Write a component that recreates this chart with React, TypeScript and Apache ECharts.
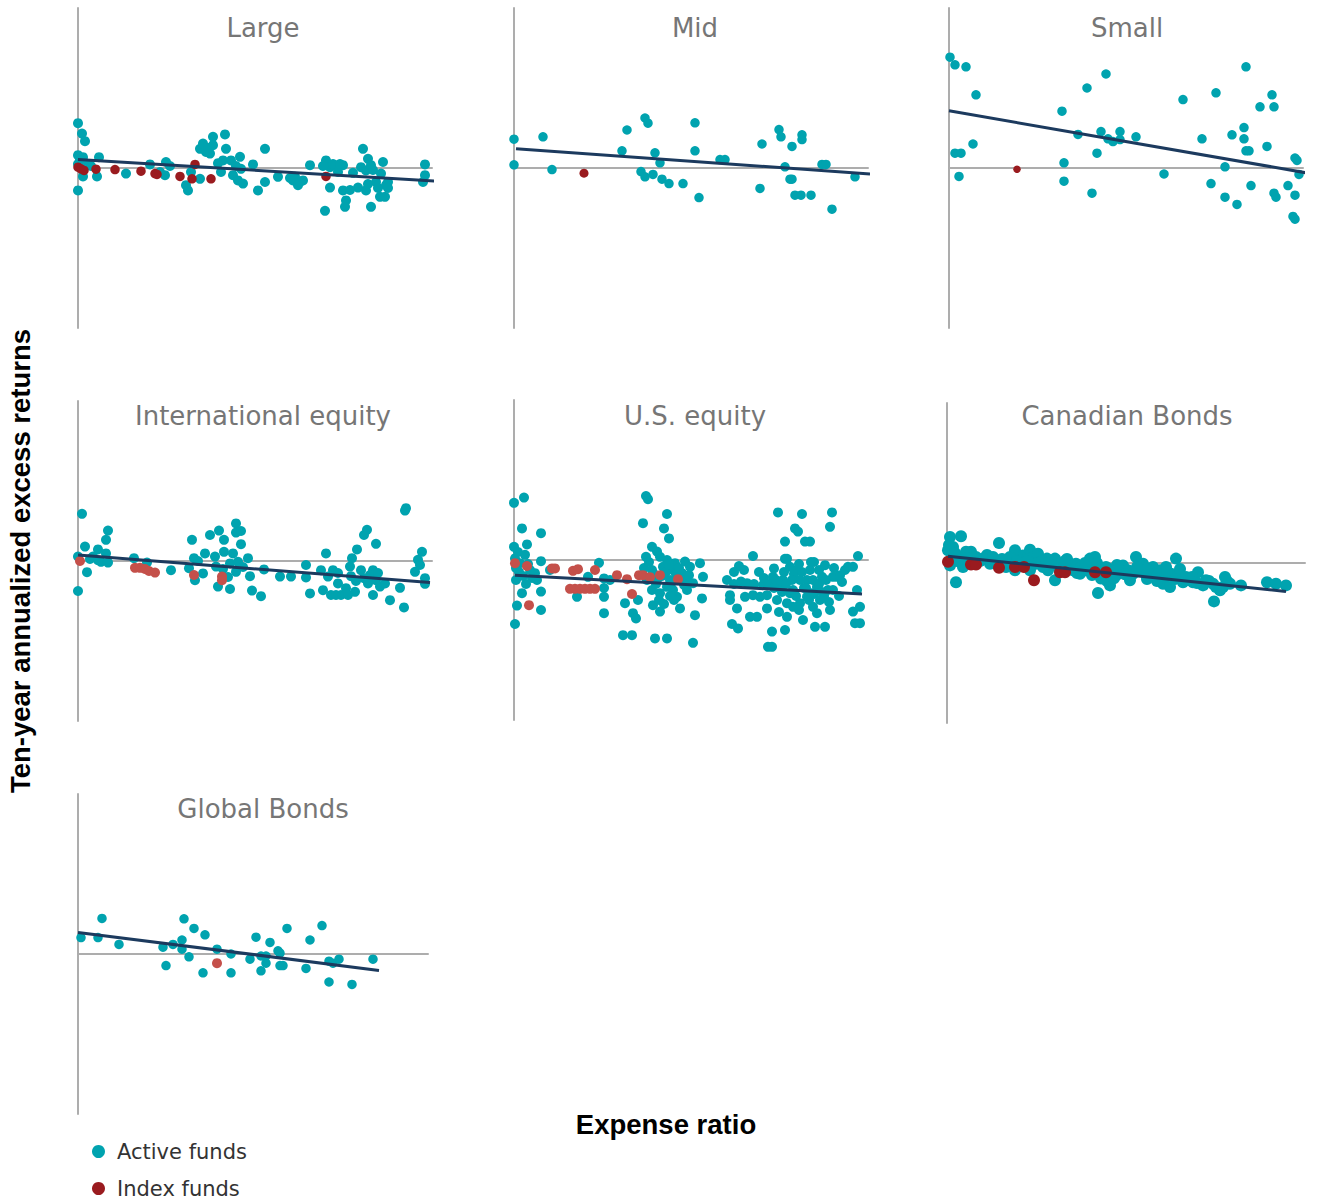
import React, { useEffect, useRef } from "react";
import * as echarts from "echarts";

// ---------- DATA (x: expense ratio %, y: ten-year annualized excess return %) ----------
const panelTitles = ["Large", "Mid", "Small", "International equity", "U.S. equity", "Canadian Bonds", "Global Bonds"];

const largeActive = [[0,1.12],[0.04,0.86],[0.07,0.67],[0,0.32],[0.05,0.27],[0,0.1],[0,-0.56],[0.05,-0.21],[0.1,0.1],[0.21,0.27],[0.19,-0.21],[0.48,-0.14],[0.72,0.09],[0.88,0.15],[0.87,-0.18],[0.82,-0.1],[1.08,-0.43],[1.1,-0.56],[1.13,-0.1],[1.22,-0.27],[1.22,0.48],[1.25,0.61],[1.28,0.4],[1.35,0.78],[1.35,0.57],[1.32,0.36],[1.47,0.84],[1.48,0.48],[1.45,0.19],[1.53,0.19],[1.43,-0.1],[1.62,0.28],[1.63,-0.02],[1.55,-0.18],[1.6,-0.31],[1.65,-0.39],[1.75,0.09],[1.8,-0.56],[1.87,-0.35],[1.87,0.48],[2.0,-0.22],[2.15,-0.31],[2.2,-0.43],[2.25,-0.31],[2.17,-0.22],[2.32,0.07],[2.48,0.19],[2.52,0.02],[2.57,0.07],[2.65,0.07],[2.52,-0.49],[2.65,-0.56],[2.68,-0.81],[2.67,-0.97],[2.47,-1.07],[2.75,-0.12],[2.8,-0.49],[2.85,0.48],[2.83,0.02],[2.88,-0.06],[2.9,0.23],[2.93,0.07],[2.88,-0.56],[2.93,-0.97],[2.98,-0.35],[3.02,-0.72],[3.07,-0.72],[3.05,0.15],[3.03,-0.14],[3.08,-0.43],[3.1,-0.35],[3.47,0.09],[3.47,-0.18],[3.45,-0.35],[0.02,0.2],[0.13,0.05],[0.92,0.05],[1.3,0.5],[1.4,0.12],[1.58,0.05],[2.22,-0.35],[2.12,-0.25],[2.45,0.05],[2.55,0.1],[2.6,-0.1],[2.72,-0.55],[2.95,-0.05],[3.0,-0.5],[3.1,-0.5],[2.62,0.1],[2.9,-0.4]];
const largeIndex = [[0,0.02],[0.03,-0.02],[0.06,-0.06],[0.18,-0.03],[0.37,-0.04],[0.63,-0.08],[0.77,-0.14],[0.79,-0.16],[1.02,-0.21],[1.14,-0.27],[1.17,0.09],[1.33,-0.27],[2.48,-0.21]];
const largeTrend = [[0,0.21],[3.58,-0.33]];

const midActive = [[0,0.72],[0,0.08],[0.29,0.78],[0.38,-0.04],[1.08,0.43],[1.13,0.95],[1.31,1.25],[1.34,1.12],[1.41,0.38],[1.46,0.13],[1.27,-0.09],[1.31,-0.22],[1.39,-0.16],[1.48,-0.28],[1.55,-0.39],[1.69,-0.39],[1.81,1.13],[1.81,0.43],[1.85,-0.74],[2.06,0.21],[2.11,0.21],[2.46,-0.51],[2.48,0.6],[2.65,0.96],[2.67,0.78],[2.78,0.54],[2.88,0.83],[2.88,0.71],[2.71,0.03],[2.76,-0.28],[2.78,-0.28],[2.81,-0.68],[2.87,-0.68],[2.97,-0.68],[3.08,0.09],[3.12,0.09],[3.18,-1.03],[3.41,-0.22]];
const midIndex = [[0.7,-0.13]];
const midTrend = [[0.02,0.48],[3.56,-0.15]];

const smallActive = [[0.01,2.77],[0.06,2.58],[0.17,2.53],[0.27,1.83],[0.24,0.6],[0.06,0.37],[0.12,0.37],[0.1,-0.21],[1.13,1.42],[1.15,0.13],[1.15,-0.33],[1.29,0.84],[1.38,2.0],[1.43,-0.63],[1.48,0.37],[1.52,0.91],[1.57,2.35],[1.59,0.73],[1.64,0.66],[1.71,0.91],[1.71,0.71],[1.87,0.78],[2.15,-0.15],[2.34,1.71],[2.53,0.73],[2.62,-0.39],[2.67,1.88],[2.76,0.03],[2.76,-0.73],[2.83,0.83],[2.88,-0.91],[2.95,1.01],[2.95,0.73],[2.97,2.53],[2.97,0.43],[3.0,0.43],[3.02,-0.44],[3.11,1.53],[3.18,0.54],[3.23,1.83],[3.25,1.53],[3.25,-0.63],[3.27,-0.73],[3.39,-0.44],[3.46,0.25],[3.48,0.19],[3.5,-0.16],[3.46,-0.68],[3.44,-1.21],[3.46,-1.28]];
const smallIndex = [[0.68,-0.03]];
const smallTrend = [[0,1.43],[3.64,-0.15]];

const intlActive = [[0.04,1.18],[0.07,0.36],[0,0.11],[0.09,-0.28],[0,-0.75],[0.15,0.11],[0.2,0.29],[0.23,-0.02],[0.28,0.19],[0.28,0.53],[0.3,0.76],[0.3,-0.04],[0.56,0.07],[0.69,-0.04],[0.93,-0.23],[1.14,0.53],[1.16,0.07],[1.11,-0.18],[1.17,-0.48],[1.25,-0.31],[1.27,0.19],[1.32,0.65],[1.37,0.11],[1.38,-0.14],[1.41,0.76],[1.46,0.53],[1.46,0.23],[1.4,-0.64],[1.52,-0.06],[1.52,-0.7],[1.55,0.19],[1.58,0.94],[1.58,0.71],[1.63,0.75],[1.63,0.42],[1.6,-0.02],[1.58,-0.27],[1.7,0.07],[1.72,-0.38],[1.74,-0.74],[1.83,-0.88],[1.86,-0.21],[2.02,-0.39],[2.13,-0.39],[2.28,-0.1],[2.28,-0.41],[2.32,-0.81],[2.43,-0.23],[2.45,-0.73],[2.48,0.19],[2.5,-0.39],[2.55,-0.23],[2.53,-0.85],[2.6,-0.56],[2.63,-0.85],[2.68,-0.68],[2.72,-0.14],[2.74,0.07],[2.73,-0.38],[2.77,-0.77],[2.79,0.29],[2.83,-0.23],[2.86,0.65],[2.89,0.78],[2.86,-0.43],[2.9,-0.56],[2.95,-0.23],[2.98,0.43],[2.95,-0.85],[2.98,-0.48],[3.02,-0.64],[3.07,-0.56],[3.12,-0.98],[3.22,-0.67],[3.26,-1.16],[3.27,1.26],[3.28,1.32],[3.4,0.03],[3.44,0.23],[3.37,-0.27],[3.42,-0.1],[3.47,-0.43],[3.47,-0.57],[0.12,0.05],[0.2,0.02],[1.2,0.0],[1.45,-0.2],[1.5,-0.4],[1.65,-0.15],[2.6,-0.3],[2.78,-0.5],[2.92,-0.35],[3.0,-0.3],[2.7,-0.85],[2.58,-0.85]];
const intlIndex = [[0.02,0.0],[0.57,-0.17],[0.62,-0.17],[0.67,-0.2],[0.71,-0.25],[0.77,-0.29],[1.16,-0.35],[1.44,-0.39],[1.44,-0.48]];
const intlTrend = [[0,0.15],[3.52,-0.54]];

const usActive = [[0,1.43],[0.1,1.56],[0.08,0.79],[0.13,0.39],[0,0.33],[0.01,0.04],[0.06,-0.08],[0.02,-0.5],[0.08,-0.83],[0.03,-1.14],[0.01,-1.6],[0.11,0.13],[0.16,-0.25],[0.23,-0.5],[0.27,0.67],[0.27,-0.03],[0.27,-0.79],[0.27,-1.25],[0.21,-0.33],[0.36,-0.25],[0.63,-0.92],[0.74,-0.42],[0.85,-0.07],[0.9,-0.46],[0.9,-0.92],[0.9,-1.33],[0.96,-0.5],[1.09,-1.88],[1.18,-1.88],[1.11,-1.08],[1.19,-1.33],[1.22,-1.46],[1.24,-1.0],[1.29,0.92],[1.32,1.6],[1.34,1.52],[1.32,0.08],[1.38,0.33],[1.43,0.21],[1.38,-0.25],[1.39,-1.13],[1.41,-1.96],[1.53,-1.96],[1.46,-0.83],[1.46,-1.29],[1.5,0.79],[1.53,1.15],[1.55,0.54],[1.53,0.0],[1.56,-0.5],[1.59,-0.25],[1.63,-0.92],[1.66,-1.21],[1.71,-0.04],[1.73,-0.5],[1.76,-0.17],[1.79,-0.58],[1.81,-1.38],[1.79,-2.07],[1.86,-0.08],[1.88,-0.96],[1.89,-0.42],[2.13,-0.5],[2.16,-1.0],[2.18,-1.6],[2.24,-1.71],[2.25,-0.15],[2.27,-0.54],[2.23,-1.21],[2.33,-0.58],[2.39,0.1],[2.36,-1.42],[2.43,-1.42],[2.39,-0.88],[2.49,-0.63],[2.53,-1.21],[2.54,-2.17],[2.58,-2.17],[2.58,-1.79],[2.6,-0.21],[2.64,1.19],[2.69,-0.5],[2.71,0.46],[2.71,0.03],[2.73,0.03],[2.73,-1.42],[2.71,-1.75],[2.76,-0.83],[2.79,-0.75],[2.81,0.79],[2.84,0.71],[2.88,1.15],[2.83,-0.25],[2.86,-1.08],[2.89,-1.5],[2.91,0.46],[2.96,0.46],[2.93,-0.5],[2.96,-0.25],[2.98,-0.83],[2.99,-1.17],[3.01,-1.67],[3.03,-0.67],[3.06,-1.0],[3.08,-0.42],[3.11,-0.13],[3.11,-1.67],[3.16,0.83],[3.18,1.19],[3.14,-0.75],[3.16,-1.25],[3.19,-0.42],[3.23,-0.42],[3.26,-0.38],[3.31,-0.25],[3.34,-0.17],[3.39,-0.17],[3.44,0.1],[3.43,-0.75],[3.39,-1.29],[3.46,-1.17],[3.41,-1.58],[3.46,-1.58],[2.59,-0.42],[2.66,-0.67],[2.76,-0.17],[2.86,-0.5],[2.93,-0.92],[2.99,-0.5],[3.03,-1.33],[3.05,-0.25],[2.79,-1.17],[2.73,-1.08],[3.19,-0.75],[2.16,-0.88],[2.31,-0.92],[2.46,-0.92],[2.53,-0.88],[2.63,-1.0],[1.53,-0.67],[1.43,-0.5],[1.66,-0.5],[1.59,-0.75],[1.38,-0.75],[1.33,-0.5],[1.73,-0.75],[1.68,-0.33],[1.49,-0.17],[1.61,-0.08],[1.46,0.08],[0.05,-0.3],[0.12,-0.6],[0.9,-0.7],[1.3,-0.2],[1.6,-1.0],[2.2,-0.3],[2.45,-0.3],[2.65,-1.3],[2.9,-0.7],[3.1,-0.9],[2.85,-1.25],[3.0,-0.05],[3.25,-0.9],[2.55,-0.6],[2.7,-0.3],[0.04,0.2],[0.02,-0.2],[0.09,-0.4],[0.14,-0.1],[0.18,-0.45],[1.35,-0.05],[1.4,-0.35],[1.42,-0.6],[1.48,-0.4],[1.52,-0.3],[1.55,-0.12],[1.58,-0.55],[1.62,-0.35],[1.65,-0.2],[1.7,-0.62],[1.75,-0.38],[1.45,-1.0],[1.5,-1.1],[1.56,-0.9],[2.62,-0.5],[2.68,-0.8],[2.72,-0.6],[2.8,-0.35],[2.82,-0.9],[2.88,-0.3],[2.92,-0.7],[2.95,-1.0],[3.0,-0.85],[3.05,-0.6],[3.08,-0.8],[3.12,-0.5],[3.15,-1.05],[2.78,-0.5],[2.6,-0.7],[2.5,-0.45],[2.4,-0.6],[2.3,-0.25],[2.2,-0.6],[2.85,-0.1],[2.97,-0.05],[3.2,-0.2],[3.28,-0.55]];
const usIndex = [[0.01,-0.08],[0.13,-0.15],[0.15,-1.13],[0.38,-0.21],[0.41,-0.21],[0.59,-0.27],[0.64,-0.23],[0.81,-0.25],[0.56,-0.72],[0.61,-0.72],[0.66,-0.72],[0.71,-0.72],[0.76,-0.72],[0.81,-0.72],[1.03,-0.38],[1.13,-0.48],[1.18,-0.85],[1.25,-0.38],[1.29,-0.38],[1.36,-0.43],[1.46,-0.38],[1.64,-0.48]];
const usTrend = [[0.01,-0.38],[3.48,-0.85]];

const cadActive = [[0.03,0.65],[0.14,0.67],[0.01,0.32],[0.06,0.4],[0.11,0.15],[0.03,-0.06],[0.16,-0.1],[0.09,-0.48],[0.24,0.28],[0.29,0.15],[0.36,0.11],[0.52,0.5],[0.59,-0.1],[0.68,0.32],[0.68,-0.18],[0.76,0.19],[0.83,0.33],[0.86,0.15],[0.91,0.23],[0.83,-0.18],[1.0,0.11],[1.08,0.11],[1.08,-0.43],[1.01,-0.18],[1.16,-0.06],[1.23,-0.02],[1.29,-0.02],[1.33,-0.27],[1.43,0.11],[1.48,0.15],[1.39,-0.18],[1.51,-0.75],[1.54,-0.39],[1.63,-0.56],[1.59,-0.1],[1.69,-0.31],[1.76,-0.06],[1.83,-0.43],[1.89,0.15],[1.96,-0.02],[1.99,-0.27],[2.06,-0.1],[2.13,-0.18],[2.16,-0.52],[2.19,-0.1],[2.23,-0.6],[2.29,0.11],[2.31,-0.31],[2.39,-0.35],[2.46,-0.48],[2.51,-0.23],[2.59,-0.43],[2.66,-0.52],[2.67,-0.96],[2.73,-0.68],[2.78,-0.35],[2.76,-0.6],[2.83,-0.52],[2.94,-0.56],[3.2,-0.48],[3.29,-0.52],[3.39,-0.56],[0.06,0.15],[0.19,0.28],[0.43,-0.02],[0.49,-0.02],[0.63,0.15],[0.73,0.07],[0.89,-0.02],[0.96,-0.1],[1.13,-0.18],[1.26,-0.18],[1.34,-0.1],[1.46,-0.02],[1.56,-0.23],[1.64,-0.27],[1.73,-0.18],[1.81,-0.18],[1.86,-0.27],[1.93,-0.18],[2.03,-0.31],[2.09,-0.35],[2.18,-0.35],[2.24,-0.27],[2.36,-0.48],[2.56,-0.56],[2.69,-0.6],[0.02,0.45],[0.1,0.05],[0.33,0.05],[0.4,0.2],[0.55,0.1],[0.95,0.05],[1.2,0.1],[1.5,0.0],[1.7,-0.05],[2.0,-0.15],[2.1,-0.45],[2.45,-0.35],[1.6,-0.45],[0.7,0.05],[0.08,0.25],[0.2,0.12],[0.46,0.15],[0.8,0.05],[1.05,-0.05],[1.18,0.05],[1.38,0.0],[1.53,-0.12],[1.62,-0.15],[1.67,-0.38],[1.78,-0.28],[1.9,-0.1],[2.0,-0.4],[2.12,-0.28],[2.2,-0.2],[2.28,-0.4],[2.33,-0.15],[2.42,-0.42],[2.5,-0.5],[2.62,-0.45],[2.8,-0.45],[1.45,-0.3],[1.3,-0.25],[0.99,-0.02]];
const cadIndex = [[0.01,0.03],[0.24,-0.04],[0.29,-0.04],[0.52,-0.12],[0.68,-0.1],[0.77,-0.1],[0.87,-0.43],[1.13,-0.23],[1.18,-0.23],[1.48,-0.23],[1.59,-0.23]];
const cadTrend = [[0.01,0.17],[3.39,-0.71]];

const globalActive = [[0.03,0.41],[0.2,0.41],[0.24,0.89],[0.41,0.24],[0.85,0.17],[0.88,-0.29],[0.95,0.24],[1.04,0.35],[1.04,0.12],[1.06,0.88],[1.11,-0.07],[1.16,0.64],[1.25,-0.47],[1.27,0.48],[1.39,0.12],[1.53,0.0],[1.53,-0.47],[1.72,-0.13],[1.78,0.42],[1.83,-0.05],[1.83,-0.42],[1.88,-0.05],[1.88,-0.23],[1.92,0.29],[2.0,0.08],[2.02,0.02],[2.02,-0.29],[2.05,-0.29],[2.09,0.64],[2.28,-0.36],[2.32,0.35],[2.44,0.71],[2.51,-0.18],[2.51,-0.7],[2.55,-0.23],[2.61,-0.13],[2.74,-0.76],[2.95,-0.13]];
const globalIndex = [[1.39,-0.23]];
const globalTrend = [[0,0.54],[3.01,-0.41]];

const activeSets = [largeActive, midActive, smallActive, intlActive, usActive, cadActive, globalActive];
const indexSets = [largeIndex, midIndex, smallIndex, intlIndex, usIndex, cadIndex, globalIndex];
const trendSets = [largeTrend, midTrend, smallTrend, intlTrend, usTrend, cadTrend, globalTrend];

// ---------- LAYOUT & STYLE ----------
const gridLefts = [78, 514, 949, 78, 514, 947, 78];
const gridTops = [8, 8, 8, 401, 400, 403, 794];
const gridWidths = [354, 354, 354, 354, 354, 358, 350];
const GRID_H = 320;
const titleCenters = [263, 695, 1127, 263, 695, 1127, 263];
const titleY = [28, 28, 28, 416, 416, 416, 809];
const activeSizes = [10, 9.5, 9.5, 10, 10, 12, 9.5];
const indexSizes = [9.5, 9, 7.5, 10, 10, 12, 10];

const TEAL = "#00A3AF";
const DARK_RED = "#9A1B1F";
const LIGHT_RED = "#C4504A";
const NAVY = "#1C3A5E";
const AXIS_GRAY = "#ADADAD";
const TITLE_GRAY = "#767676";
const indexColors = [DARK_RED, DARK_RED, DARK_RED, LIGHT_RED, LIGHT_RED, DARK_RED, LIGHT_RED];

export default function App() {
  const ref = useRef<HTMLDivElement>(null);

  useEffect(() => {
    document.body.style.margin = "0";
    if (!ref.current) return;
    const chart = echarts.init(ref.current, null, { renderer: "svg" });

    const grids = panelTitles.map((_, i) => ({
      left: gridLefts[i],
      top: gridTops[i],
      width: gridWidths[i],
      height: GRID_H,
      containLabel: false,
    }));
    const xAxes = panelTitles.map((_, i) => ({
      type: "value",
      gridIndex: i,
      min: 0,
      max: gridWidths[i] / 100,
      axisLine: { show: true, onZero: true, lineStyle: { color: AXIS_GRAY, width: 2 } },
      axisTick: { show: false },
      axisLabel: { show: false },
      splitLine: { show: false },
    }));
    const yAxes = panelTitles.map((_, i) => ({
      type: "value",
      gridIndex: i,
      min: -4,
      max: 4,
      axisLine: { show: true, onZero: false, lineStyle: { color: AXIS_GRAY, width: 2 } },
      axisTick: { show: false },
      axisLabel: { show: false },
      splitLine: { show: false },
    }));

    const series: any[] = [];
    panelTitles.forEach((_, i) => {
      series.push({
        type: "scatter",
        name: "Active funds",
        xAxisIndex: i,
        yAxisIndex: i,
        data: activeSets[i],
        symbolSize: activeSizes[i],
        itemStyle: { color: TEAL, opacity: 1 },
        z: 2,
      });
      series.push({
        type: "scatter",
        name: "Index funds",
        xAxisIndex: i,
        yAxisIndex: i,
        data: indexSets[i],
        symbolSize: indexSizes[i],
        itemStyle: { color: indexColors[i], opacity: 1 },
        z: 3,
      });
      series.push({
        type: "line",
        name: "Trend " + panelTitles[i],
        xAxisIndex: i,
        yAxisIndex: i,
        data: trendSets[i],
        showSymbol: false,
        symbol: "none",
        clip: false,
        lineStyle: { color: NAVY, width: 3 },
        z: 4,
        silent: true,
      });
    });

    const graphics: any[] = panelTitles.map((t, i) => ({
      type: "text",
      x: titleCenters[i],
      y: titleY[i],
      style: {
        text: t,
        fill: TITLE_GRAY,
        fontSize: 26,
        fontFamily: "DejaVu Sans",
        textAlign: "center",
        textVerticalAlign: "middle",
        align: "center",
        verticalAlign: "middle",
      },
    }));
    graphics.push({
      type: "text",
      x: 666,
      y: 1124,
      style: {
        text: "Expense ratio",
        fill: "#000",
        fontSize: 27.5,
        fontWeight: "bold",
        fontFamily: "Liberation Sans",
        textAlign: "center",
        textVerticalAlign: "middle",
        align: "center",
        verticalAlign: "middle",
      },
    });
    graphics.push({
      type: "text",
      x: 20,
      y: 561,
      rotation: Math.PI / 2,
      style: {
        text: "Ten-year annualized excess returns",
        fill: "#000",
        fontSize: 27.5,
        fontWeight: "bold",
        fontFamily: "Liberation Sans",
        textAlign: "center",
        textVerticalAlign: "middle",
        align: "center",
        verticalAlign: "middle",
      },
    });

    chart.setOption({
      animation: false,
      backgroundColor: "#fff",
      grid: grids,
      xAxis: xAxes,
      yAxis: yAxes,
      series,
      graphic: graphics,
      legend: {
        data: ["Active funds", "Index funds"],
        orient: "vertical",
        left: 92,
        top: 1141,
        padding: 0,
        itemGap: 16,
        itemWidth: 13,
        itemHeight: 13,
        icon: "circle",
        selectedMode: false,
        textStyle: { fontSize: 21, color: "#333", fontFamily: "DejaVu Sans", padding: [0, 0, 0, 7] },
      },
    });

    return () => chart.dispose();
  }, []);

  return <div ref={ref} style={{ width: 1317, height: 1201 }} />;
}
